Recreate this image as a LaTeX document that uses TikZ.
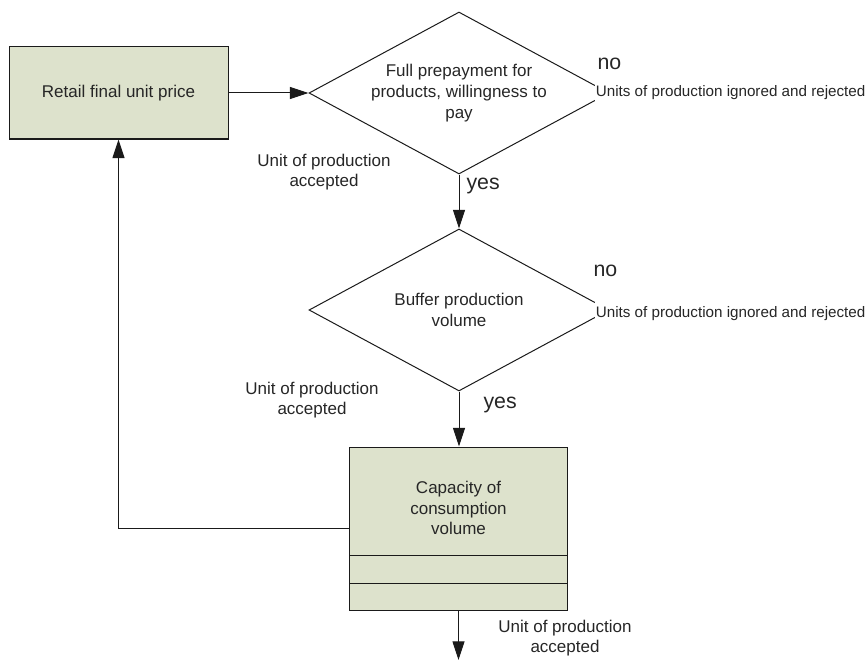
\documentclass[tikz,border=0pt]{standalone}
\usepackage{fontspec}
\setmainfont{Liberation Sans}
\usetikzlibrary{shapes.geometric,arrows.meta}
\definecolor{boxfill}{HTML}{DDE2CC}
\definecolor{linec}{HTML}{1A1A1A}
\definecolor{txt}{HTML}{262626}
\begin{document}
\begin{tikzpicture}[x=0.75pt,y=-0.75pt, line width=0.75pt,
  every node/.style={text=txt, font=\fontsize{12.75}{15.5}\selectfont},
  procbox/.style={draw=linec, fill=boxfill, rectangle, inner sep=0pt},
  decbox/.style={draw=linec, diamond, inner sep=0pt, minimum width=225pt, minimum height=121.5pt},
  flow/.style={draw=linec, -{Triangle[length=14pt,width=9pt]}},
  yn/.style={font=\fontsize{16}{19}\selectfont, inner sep=0pt, anchor=base west},
  rej/.style={font=\fontsize{11.4}{14}\selectfont, fill=white, inner xsep=1pt, inner ysep=3pt, anchor=base west},
  lbl/.style={align=center}]
\useasboundingbox (0,0) rectangle (868,660);

% process boxes
\node[procbox, minimum width=164.25pt, minimum height=69pt] (retail) at (118.5,93) {Retail final unit price};
\node[procbox, minimum width=163.5pt, minimum height=122.25pt] (cap) at (458.5,528.5) {};
\node[lbl] (captext) at (458.5,508) {Capacity of\\consumption\\volume};
\draw[draw=linec] (cap.west |- 0,555) -- (cap.east |- 0,555);
\draw[draw=linec] (cap.west |- 0,583) -- (cap.east |- 0,583);

% decisions
\node[decbox] (d1) at (459,93) {};
\node[lbl] (d1text) at (459,93) {Full prepayment for\\products, willingness to\\pay};
\node[decbox] (d2) at (459,310) {};
\node[lbl] (d2text) at (459,310) {Buffer production\\volume};

% rejection labels (cover the right tips)
\node[rej] (rej1) at (594,97) {Units of production ignored and rejected};
\node[rej] (rej2) at (594,317) {Units of production ignored and rejected};

% yes / no
\node[yn] (no1) at (597,70) {no};
\node[yn] (yes1) at (466,189) {yes};
\node[yn] (no2) at (593,276) {no};
\node[yn] (yes2) at (483,408) {yes};

% accepted labels
\node[lbl] (acc1) at (324,172) {Unit of production\\accepted};
\node[lbl] (acc2) at (312,400) {Unit of production\\accepted};
\node[lbl] (acc3) at (565,638) {Unit of production\\accepted};

% connectors
\coordinate (out) at (458.5,660);
\draw[flow] (retail.east) -- (d1.west);
\draw[flow] (d1.south) -- (d2.north);
\draw[flow] (d2.south) -- (d2.south |- cap.north);
\draw[flow] (cap.west) -| (retail.south);
\draw[flow] (cap.south) -- (out);
\end{tikzpicture}
\end{document}
